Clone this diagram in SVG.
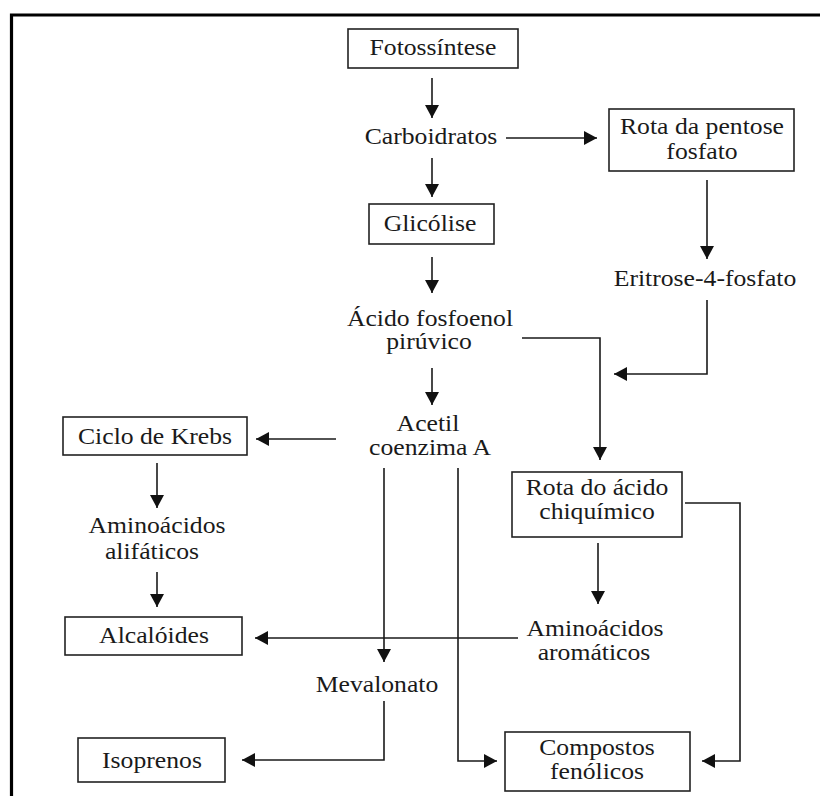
<svg xmlns="http://www.w3.org/2000/svg" width="820" height="796" viewBox="0 0 820 796">
<style>
text{font-family:"Liberation Serif","Times New Roman",serif;font-size:23px;fill:#1a1a1a;text-anchor:middle}
.box{fill:#fff;stroke:#222;stroke-width:1.6}
.con{fill:none;stroke:#1a1a1a;stroke-width:1.6}
.frame{fill:none;stroke:#000;stroke-width:3.2}
</style>
<defs>
<marker id="ah" markerUnits="userSpaceOnUse" markerWidth="14" markerHeight="15" viewBox="0 0 14 15" refX="13" refY="7.5" orient="auto">
<path d="M0,0.5 L13,7.5 L0,14.5 z" fill="#111"/>
</marker>
</defs>
<rect width="820" height="796" fill="#fff"/>
<path class="frame" d="M11.5,796 V15 H820"/>

<g id="connectors">
<path class="con" d="M432,78 V118" marker-end="url(#ah)"/>
<path class="con" d="M506,138 H597" marker-end="url(#ah)"/>
<path class="con" d="M432,158 V197" marker-end="url(#ah)"/>
<path class="con" d="M707,180 V259" marker-end="url(#ah)"/>
<path class="con" d="M432,257 V293" marker-end="url(#ah)"/>
<path class="con" d="M707,300 V374 H614" marker-end="url(#ah)"/>
<path class="con" d="M522,338 H600 V460" marker-end="url(#ah)"/>
<path class="con" d="M432,368 V405" marker-end="url(#ah)"/>
<path class="con" d="M336,439 H256" marker-end="url(#ah)"/>
<path class="con" d="M157,463 V508" marker-end="url(#ah)"/>
<path class="con" d="M157,572 V607" marker-end="url(#ah)"/>
<path class="con" d="M598,543 V604" marker-end="url(#ah)"/>
<path class="con" d="M518,638 H255" marker-end="url(#ah)"/>
<path class="con" d="M384,468 V662" marker-end="url(#ah)"/>
<path class="con" d="M458,468 V761 H497" marker-end="url(#ah)"/>
<path class="con" d="M685,503 H740 V761 H702" marker-end="url(#ah)"/>
<path class="con" d="M384,701 V760 H242" marker-end="url(#ah)"/>
</g>

<g id="n-fotossintese">
<rect class="box" x="348" y="29" width="170" height="39"/>
<text transform="translate(433,55) scale(1.117,1)">Fotossíntese</text>
</g>
<g id="n-carboidratos">
<text transform="translate(431,144) scale(1.117,1)">Carboidratos</text>
</g>
<g id="n-pentose">
<rect class="box" x="609" y="109" width="185" height="62"/>
<text transform="translate(702,134) scale(1.117,1)">Rota da pentose</text>
<text transform="translate(702,159) scale(1.117,1)">fosfato</text>
</g>
<g id="n-glicolise">
<rect class="box" x="369" y="204" width="125" height="40"/>
<text transform="translate(430,231) scale(1.117,1)">Glicólise</text>
</g>
<g id="n-eritrose">
<text transform="translate(705,286) scale(1.117,1)">Eritrose-4-fosfato</text>
</g>
<g id="n-pep">
<text transform="translate(430,326) scale(1.117,1)">Ácido fosfoenol</text>
<text transform="translate(429,349) scale(1.117,1)">pirúvico</text>
</g>
<g id="n-acetil">
<text transform="translate(428,431) scale(1.117,1)">Acetil</text>
<text transform="translate(430,455) scale(1.117,1)">coenzima A</text>
</g>
<g id="n-krebs">
<rect class="box" x="63" y="417" width="184" height="38"/>
<text transform="translate(155,444) scale(1.117,1)">Ciclo de Krebs</text>
</g>
<g id="n-chiquimico">
<rect class="box" x="512" y="472" width="170" height="65"/>
<text transform="translate(597,495) scale(1.117,1)">Rota do ácido</text>
<text transform="translate(597,519) scale(1.117,1)">chiquímico</text>
</g>
<g id="n-aa-alifaticos">
<text transform="translate(157,533) scale(1.117,1)">Aminoácidos</text>
<text transform="translate(152,559) scale(1.117,1)">alifáticos</text>
</g>
<g id="n-aa-aromaticos">
<text transform="translate(595,636) scale(1.117,1)">Aminoácidos</text>
<text transform="translate(594,660) scale(1.117,1)">aromáticos</text>
</g>
<g id="n-alcaloides">
<rect class="box" x="65" y="617" width="177" height="38"/>
<text transform="translate(154,643) scale(1.117,1)">Alcalóides</text>
</g>
<g id="n-mevalonato">
<text transform="translate(377,692) scale(1.117,1)">Mevalonato</text>
</g>
<g id="n-isoprenos">
<rect class="box" x="78" y="738" width="147" height="44"/>
<text transform="translate(152,768) scale(1.117,1)">Isoprenos</text>
</g>
<g id="n-compostos">
<rect class="box" x="505" y="732" width="185" height="59"/>
<text transform="translate(597,755) scale(1.117,1)">Compostos</text>
<text transform="translate(597,779) scale(1.117,1)">fenólicos</text>
</g>
</svg>
